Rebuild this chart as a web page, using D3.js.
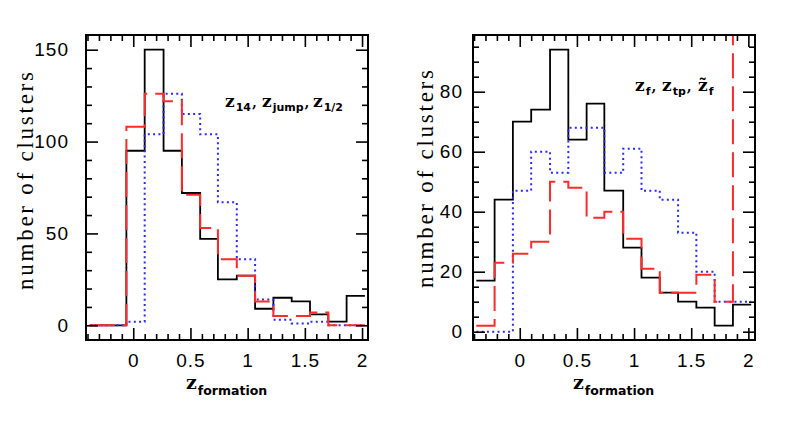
<!DOCTYPE html>
<html>
<head>
<meta charset="utf-8">
<script src="https://cdn.jsdelivr.net/npm/d3@7"></script>
<style>
  body { margin: 0; background: #fff; }
</style>
</head>
<body>
<svg id="chart" width="797" height="425"></svg>
<script>
// bin edges (z), shared by both panels
const binEdges = [-0.38, -0.22, -0.06, 0.10, 0.265, 0.425, 0.585, 0.74, 0.905, 1.065, 1.225, 1.385, 1.545, 1.705, 1.865, 2.025];

// left panel: z14, zjump, z1/2
const leftBlack = [0, 0, 95, 150, 95, 72, 47, 25, 27, 9, 15, 13, 6, 2, 16];
const leftBlue = [0, 0, 2, 104, 126, 115, 104, 67, 36, 14, 3, 1, 2, 0, 0];
const leftRed = [0, 0, 108, 126, 122, 71, 53, 36, 27, 13, 5, 5, 7, 0, 0];

// right panel: zf, ztp, z~f
const rightBlack = [17, 44, 70, 74, 94, 64, 76, 47, 28, 18, 13, 10, 8, 2, 9];
const rightBlue = [0, 0, 47, 60, 53, 68, 68, 53, 61, 47, 44, 33, 20, 10, 10];
const rightRed = [2, 23, 26, 30, 50, 48, 38, 40, 31, 21, 13, 13, 19, 10, 130];

const xTicks = [0, 0.5, 1, 1.5, 2];
const leftYTicks = [0, 50, 100, 150];
const rightYTicks = [0, 20, 40, 60, 80];

const svg = d3.select('#chart');
svg.append('rect').attr('width', 797).attr('height', 425).attr('fill', '#fff');

const tickFont = '"Liberation Sans", Arial, sans-serif';
const serifFont = '"DejaVu Serif", serif';

const drawPanel = (cfg, id) => {
  const x = d3.scaleLinear().domain(cfg.xDomain).range([cfg.left, cfg.right]);
  const y = d3.scaleLinear().domain(cfg.yDomain).range([cfg.bottom, cfg.top]);
  const g = svg.append('g');

  g.append('clipPath').attr('id', id)
    .append('rect')
    .attr('x', cfg.left).attr('y', cfg.top)
    .attr('width', cfg.right - cfg.left).attr('height', cfg.bottom - cfg.top);

  const line = d3.line()
    .x(d => x(d[0]))
    .y(d => y(d[1]))
    .curve(d3.curveStepAfter);

  const steps = vals => vals.map((v, i) => [binEdges[i], v]).concat([[binEdges[vals.length], vals[vals.length - 1]]]);

  const series = [
    { vals: cfg.black, color: '#000', dash: null, w: 1.8 },
    { vals: cfg.blue, color: '#2a2aff', dash: '2,3.3', w: 2 },
    { vals: cfg.red, color: '#ff2a2a', dash: '25,8', w: 2 }
  ];

  g.append('g').attr('clip-path', `url(#${id})`)
    .selectAll('path')
    .data(series)
    .enter().append('path')
    .attr('fill', 'none')
    .attr('stroke', d => d.color)
    .attr('stroke-width', d => d.w)
    .attr('stroke-dasharray', d => d.dash)
    .attr('d', d => line(steps(d.vals)));

  const xMinor = d3.range(-4, 21).map(d => d / 10).filter(d => !xTicks.includes(d));
  const yMinor = cfg.yMinor.filter(d => !cfg.yTicks.includes(d));

  const addAxis = (axis, tx, ty) => {
    const a = g.append('g')
      .attr('transform', `translate(${tx},${ty})`)
      .call(axis);
    a.select('.domain').remove();
    a.selectAll('line').attr('stroke', '#000').attr('stroke-width', 1.6);
    a.selectAll('text')
      .attr('font-family', tickFont)
      .attr('font-size', 19)
      .attr('letter-spacing', 1)
      .attr('fill', '#000');
    return a;
  };

  // minor ticks, all four sides
  addAxis(d3.axisBottom(x).tickValues(xMinor).tickSize(-6).tickFormat(''), 0, cfg.bottom);
  addAxis(d3.axisTop(x).tickValues(xMinor).tickSize(-6).tickFormat(''), 0, cfg.top);
  addAxis(d3.axisLeft(y).tickValues(yMinor).tickSize(-6).tickFormat(''), cfg.left, 0);
  addAxis(d3.axisRight(y).tickValues(yMinor).tickSize(-6).tickFormat(''), cfg.right, 0);

  // major ticks
  addAxis(d3.axisBottom(x).tickValues(xTicks).tickSize(-12).tickPadding(14).tickFormat(d3.format('')), 0, cfg.bottom);
  addAxis(d3.axisTop(x).tickValues(xTicks).tickSize(-12).tickFormat(''), 0, cfg.top);
  addAxis(d3.axisLeft(y).tickValues(cfg.yTicks).tickSize(-12).tickPadding(cfg.yPad).tickFormat(d3.format('')), cfg.left, 0);
  addAxis(d3.axisRight(y).tickValues(cfg.yTicks).tickSize(-12).tickFormat(''), cfg.right, 0);

  g.append('rect')
    .attr('x', cfg.left).attr('y', cfg.top)
    .attr('width', cfg.right - cfg.left).attr('height', cfg.bottom - cfg.top)
    .attr('fill', 'none')
    .attr('stroke', '#000')
    .attr('stroke-width', 2);

  // y label
  g.append('text')
    .attr('transform', `translate(${cfg.yLabelX},${cfg.yLabelY}) rotate(-90)`)
    .attr('text-anchor', 'middle')
    .attr('font-family', '"Liberation Serif", serif')
    .attr('font-size', 23)
    .attr('textLength', 218)
    .attr('lengthAdjust', 'spacing')
    .text('number of clusters');

  // x label
  const xl = g.append('text')
    .attr('x', cfg.xLabelX)
    .attr('y', 389)
    .attr('font-weight', 'bold');
  xl.append('tspan').attr('font-family', serifFont).attr('font-size', 19).text('z');
  xl.append('tspan').attr('font-family', '"DejaVu Sans", sans-serif').attr('font-size', 12.5)
    .attr('dx', 1).attr('dy', 6).text('formation');

  // annotation
  const an = g.append('text')
    .attr('y', cfg.noteY)
    .attr('font-weight', 'bold');
  cfg.note.forEach((p, i) => {
    an.append('tspan').attr('x', p.x).attr('y', cfg.noteY)
      .attr('font-family', serifFont).attr('font-size', 17).text(p.z);
    an.append('tspan').attr('font-family', '"DejaVu Sans", sans-serif').attr('font-size', 11)
      .attr('dx', 1).attr('dy', 4).text(p.sub);
    if (i < cfg.note.length - 1) {
      an.append('tspan').attr('font-family', serifFont).attr('font-size', 14)
        .attr('dx', 1).attr('dy', -4).text(',');
    }
  });
};

drawPanel({
  left: 86, right: 368, top: 35, bottom: 340,
  xDomain: [-0.413, 2.052], yDomain: [-8.0, 158.0],
  yTicks: leftYTicks, yMinor: d3.range(0, 151, 10), yPad: 17,
  black: leftBlack, blue: leftBlue, red: leftRed,
  yLabelX: 33, yLabelY: 181, xLabelX: 186,
  noteY: 107,
  note: [
    { x: 225, z: 'z', sub: '14' },
    { x: 262, z: 'z', sub: 'jump' },
    { x: 313, z: 'z', sub: '1/2' }
  ]
}, 'clipL');

drawPanel({
  left: 473, right: 755, top: 35, bottom: 340,
  xDomain: [-0.409, 2.058], yDomain: [-2.77, 98.9],
  yTicks: rightYTicks, yMinor: d3.range(0, 96, 5), yPad: 10,
  black: rightBlack, blue: rightBlue, red: rightRed,
  yLabelX: 433, yLabelY: 179, xLabelX: 573,
  noteY: 91,
  note: [
    { x: 635, z: 'z', sub: 'f' },
    { x: 662, z: 'z', sub: 'tp' },
    { x: 698, z: 'z\u0303', sub: 'f' }
  ]
}, 'clipR');
</script>
</body>
</html>
